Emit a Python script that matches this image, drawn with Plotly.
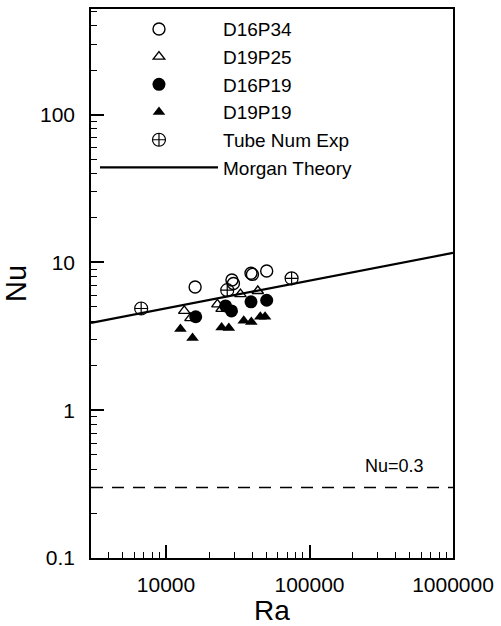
import plotly.graph_objects as go

# ---- data ----
d16p34_ra = [15950, 28800, 29500, 39100, 40000, 50300]
d16p34_nu = [6.82, 7.6, 7.2, 8.45, 8.3, 8.75]

d19p25_ra = [13400, 14800, 22800, 24400, 33000, 43600]
d19p25_nu = [4.70, 4.20, 5.20, 4.85, 6.10, 6.41]

d16p19_ra = [16100, 26000, 28600, 39100, 50300]
d16p19_nu = [4.29, 5.08, 4.70, 5.41, 5.55]

d19p19_ra = [12600, 15300, 24400, 27400, 34800, 39300, 45400, 49000]
d19p19_nu = [3.54, 3.08, 3.63, 3.60, 4.03, 3.96, 4.29, 4.29]

tube_ra = [6710, 26700, 75000]
tube_nu = [4.88, 6.49, 7.81]

morgan_ra = [3000, 10000, 100000, 1000000]
morgan_nu = [3.9, 4.9, 7.5, 11.6]

limit_ra = [3000, 1000000]
limit_nu = [0.3, 0.3]

x_ticks = [10000, 100000, 1000000]
x_labels = ["10000", "100000", "1000000"]
y_ticks = [0.1, 1, 10, 100]
y_labels = ["0.1", "1", "10", "100"]

FONT = "Arial, Liberation Sans, sans-serif"
BLACK = "black"

fig = go.Figure()

fig.add_trace(go.Scatter(x=d16p34_ra, y=d16p34_nu, mode="markers", name="D16P34",
                         legendgroup="a",
                         marker=dict(symbol="circle-open", size=12, color=BLACK,
                                     line=dict(width=1.4, color=BLACK))))
fig.add_trace(go.Scatter(x=d19p25_ra, y=d19p25_nu, mode="markers", name="D19P25",
                         legendgroup="b",
                         marker=dict(symbol="triangle-up-open", size=10, color=BLACK,
                                     line=dict(width=1.4, color=BLACK))))
fig.add_trace(go.Scatter(x=d16p19_ra, y=d16p19_nu, mode="markers", name="D16P19",
                         legendgroup="c",
                         marker=dict(symbol="circle", size=13, color=BLACK)))
fig.add_trace(go.Scatter(x=d19p19_ra, y=d19p19_nu, mode="markers", name="D19P19",
                         legendgroup="d",
                         marker=dict(symbol="triangle-up", size=11, color=BLACK)))
fig.add_trace(go.Scatter(x=tube_ra, y=tube_nu, mode="markers", name="Tube Num Exp",
                         legendgroup="e",
                         marker=dict(symbol="circle-cross-open", size=13, color=BLACK,
                                     line=dict(width=1.2, color=BLACK))))
fig.add_trace(go.Scatter(x=morgan_ra, y=morgan_nu, mode="lines", name="Morgan Theory",
                         legendgroup="f",
                         line=dict(color=BLACK, width=2.2)))
fig.add_trace(go.Scatter(x=limit_ra, y=limit_nu, mode="lines", name="Nu=0.3",
                         showlegend=False,
                         line=dict(color=BLACK, width=1.6, dash="12px,9px")))

fig.add_annotation(text="Nu=0.3", xref="paper", x=(429 - 91) / 365, xanchor="right",
                   yref="y", y=-0.375, yanchor="middle", showarrow=False,
                   font=dict(family=FONT, size=18, color=BLACK))

x_minor = [k * 10 ** e for e in range(3, 6) for k in range(2, 10) if k * 10 ** e >= 3000]
y_minor = [k * 10.0 ** e for e in range(-1, 3) for k in range(2, 10) if k * 10.0 ** e <= 500]

axis_common = dict(showline=True, linecolor=BLACK, linewidth=1.5, mirror=True,
                   ticks="inside", ticklen=13, tickwidth=1.5, tickcolor=BLACK,
                   showgrid=False, zeroline=False,
                   tickfont=dict(family=FONT, size=21, color=BLACK))

fig.update_xaxes(type="log", range=[3.4771, 6.0],
                 tickvals=x_ticks, ticktext=x_labels,
                 minor=dict(tickvals=x_minor, ticks="inside", ticklen=6,
                            tickwidth=1.2, tickcolor=BLACK, showgrid=False),
                 ticklabelstandoff=7,
                 title=dict(text="Ra", font=dict(family=FONT, size=28, color=BLACK),
                            standoff=0),
                 **axis_common)
fig.update_yaxes(type="log", range=[-1, 2.715],
                 tickvals=y_ticks, ticktext=y_labels,
                 minor=dict(tickvals=y_minor, ticks="inside", ticklen=6,
                            tickwidth=1.2, tickcolor=BLACK, showgrid=False),
                 ticklabelstandoff=10,
                 title=dict(text="Nu", font=dict(family=FONT, size=29, color=BLACK),
                            standoff=12),
                 **axis_common)

fig.update_layout(
    width=501, height=626,
    margin=dict(l=91, r=45, t=7, b=68, pad=0),
    paper_bgcolor="white", plot_bgcolor="white",
    font=dict(family=FONT, color=BLACK),
    legend=dict(x=0.011, y=0.998, xanchor="left", yanchor="top",
                bgcolor="rgba(0,0,0,0)", borderwidth=0,
                font=dict(family=FONT, size=19, color=BLACK),
                itemwidth=118, tracegroupgap=0, itemsizing="trace"),
)

fig.write_html("out.html")
